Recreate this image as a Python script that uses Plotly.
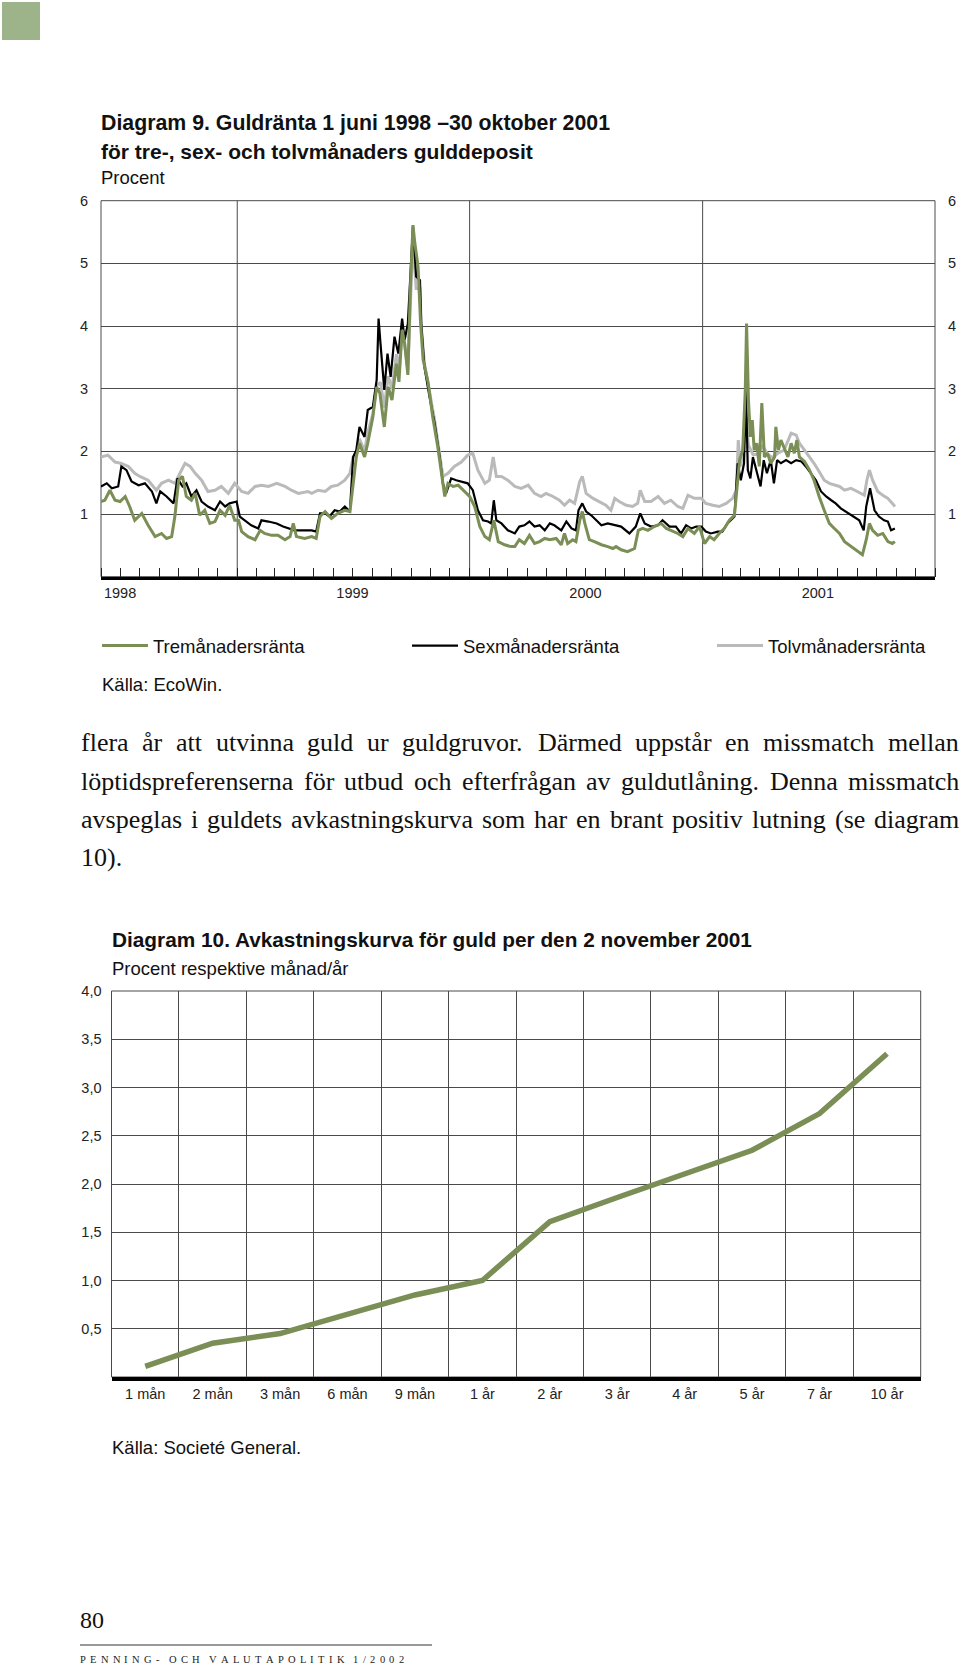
import plotly.graph_objects as go
import pandas as pd

W, H = 960, 1665

# ---------------- Diagram 9 data (days after 1998-06-01, percent) ----------------
start_date = "1998-06-01"

days_3m = [0, 6, 14, 22, 30, 38, 45, 53, 64, 74, 85, 95, 103, 111, 116, 122, 128, 134, 142, 148,
           155, 163, 171, 179, 187, 195, 202, 210, 216, 221, 231, 242, 250, 257, 268, 278, 289, 297, 302, 307,
           320,
           331, 338, 344, 352, 362, 372, 383, 391, 396, 401, 406, 414, 419, 427, 433, 438, 445, 451, 457, 464,
           468, 473, 477, 482, 486, 490, 493, 498, 502, 506, 514, 521, 529, 535, 540, 545, 553, 561, 569, 579,
           587, 595, 603, 610, 617, 624, 634, 644,
           650, 657, 665, 673, 681, 689, 697, 705, 715, 723, 728, 733, 741, 746, 752, 756, 760, 767, 775, 786,
           796, 804, 809, 817, 827, 838, 844, 851, 859, 869, 880, 888, 895, 906, 914, 922, 932, 940, 948, 956,
           963, 971, 979, 987,
           995, 999, 1003, 1008, 1012, 1014, 1017, 1020, 1023, 1026, 1030, 1034, 1038, 1042, 1047, 1052, 1058,
           1060, 1064, 1068, 1073, 1079, 1084, 1089, 1093, 1097, 1105, 1113, 1120, 1128, 1136, 1144, 1152, 1160,
           1168, 1178, 1188, 1196, 1202, 1207, 1212, 1220, 1228, 1236, 1243, 1247]
rate_3m = [1.20, 1.22, 1.38, 1.22, 1.20, 1.28, 1.12, 0.90, 1.01, 0.82, 0.64, 0.69, 0.61, 0.64, 0.96, 1.54, 1.60, 1.28, 1.22, 1.33,
           0.98, 1.06, 0.85, 0.88, 1.06, 0.98, 1.14, 0.90, 0.90, 0.72, 0.64, 0.59, 0.74, 0.69, 0.66, 0.66, 0.59, 0.64, 0.85, 0.64,
           0.61,
           0.64, 0.61, 0.96, 1.04, 0.93, 1.01, 1.06, 1.04, 1.44, 1.91, 2.13, 1.91, 2.13, 2.55, 3.03, 2.93, 2.39, 3.03, 2.82, 3.40,
           3.11, 3.94, 3.72, 3.22, 4.63, 5.61, 5.32, 4.95, 4.04, 3.46, 3.09, 2.55, 2.07, 1.65, 1.28, 1.49, 1.44, 1.46, 1.38, 1.28,
           1.12, 0.80, 0.64, 0.59, 0.90, 0.56, 0.51, 0.48,
           0.48, 0.59, 0.53, 0.66, 0.53, 0.56, 0.61, 0.59, 0.61, 0.51, 0.69, 0.53, 0.59, 0.56, 0.90, 1.04, 0.85, 0.59, 0.56, 0.51,
           0.48, 0.45, 0.48, 0.43, 0.40, 0.45, 0.74, 0.77, 0.74, 0.80, 0.85, 0.77, 0.74, 0.69, 0.64, 0.77, 0.69, 0.80, 0.53, 0.64,
           0.59, 0.69, 0.77, 0.90,
           0.98, 1.38, 1.86, 2.02, 2.98, 4.04, 2.82, 2.23, 2.50, 2.02, 2.13, 1.76, 2.77, 1.91, 1.97, 1.81, 1.91,
           2.39, 2.02, 2.18, 2.07, 1.91, 2.13, 1.97, 2.18, 1.91, 1.84, 1.70, 1.54, 1.28, 1.06, 0.85, 0.77, 0.69,
           0.56, 0.48, 0.40, 0.35, 0.59, 0.85, 0.74, 0.66, 0.69, 0.56, 0.53, 0.56]

days_6m = [0, 9, 17, 27, 32, 40, 48, 59, 69, 80, 87, 93, 103, 114, 120, 128, 134, 142, 150, 158,
           168, 179, 187, 195, 202, 213, 218, 226, 236, 247, 252, 263, 276, 286, 294, 304, 315,
           331, 338, 344, 352, 359, 367, 375, 383, 391, 396, 401, 406, 414, 419, 427, 433, 436, 439, 445, 450,
           455, 461, 467, 473, 477, 482, 488, 490, 495, 501, 503, 508, 516, 524, 532, 537, 542, 550, 558, 566,
           576, 584, 592, 600, 608, 613, 617, 621, 629, 639, 650,
           657, 665, 673, 681, 689, 697, 705, 712, 723, 731, 739, 746, 750, 756, 762, 770, 778, 786, 796, 807,
           817, 830, 840, 847, 854, 864, 875, 882, 893, 903, 911, 919, 927, 935, 943, 950, 958, 969, 976, 984,
           995, 1000, 1005, 1010, 1013, 1016, 1020, 1024, 1029, 1036, 1041, 1046, 1052, 1057, 1062, 1068, 1076,
           1084, 1092, 1100, 1107, 1115, 1123, 1131, 1139, 1147, 1154, 1162, 1170, 1181, 1191, 1198, 1202, 1208,
           1215, 1222, 1230, 1236, 1241, 1247]
rate_6m = [1.44, 1.49, 1.41, 1.44, 1.76, 1.70, 1.52, 1.46, 1.49, 1.36, 1.17, 1.36, 1.28, 1.17, 1.57, 1.44, 1.49, 1.28, 1.38, 1.20,
           1.12, 1.06, 1.20, 1.12, 1.17, 1.20, 0.96, 0.90, 0.82, 0.77, 0.90, 0.88, 0.85, 0.80, 0.77, 0.74, 0.74,
           0.74, 0.72, 1.01, 1.01, 0.96, 1.06, 1.04, 1.12, 1.04, 1.91, 2.02, 2.39, 2.23, 2.66, 2.71, 3.14, 4.12, 3.72, 2.98, 3.56,
           3.19, 3.83, 3.56, 4.12, 3.78, 4.04, 5.11, 5.59, 4.79, 4.73, 4.04, 3.35, 2.87, 2.45, 1.91, 1.49, 1.33, 1.57, 1.54, 1.52,
           1.49, 1.38, 1.06, 0.90, 0.88, 0.85, 1.22, 0.90, 0.85, 0.74, 0.69,
           0.80, 0.82, 0.88, 0.80, 0.82, 0.74, 0.85, 0.82, 0.74, 0.88, 0.77, 0.74, 1.06, 1.17, 1.04, 0.98, 0.90, 0.82, 0.85, 0.82,
           0.80, 0.69, 0.80, 1.01, 0.85, 0.80, 0.82, 0.90, 0.80, 0.80, 0.69, 0.82, 0.77, 0.80, 0.80, 0.72, 0.69, 0.72, 0.72, 0.85,
           0.96, 1.81, 1.54, 1.81, 2.98, 1.70, 1.57, 1.91, 1.70, 1.44, 1.86, 1.65, 1.86, 1.49, 1.86, 1.81, 1.86,
           1.81, 1.86, 1.84, 1.76, 1.65, 1.54, 1.36, 1.28, 1.22, 1.17, 1.09, 1.04, 0.96, 0.90, 0.74, 1.12, 1.41,
           1.06, 0.96, 0.90, 0.88, 0.74, 0.77]

days_12m = [0, 11, 22, 31, 43, 53, 61, 74, 87, 95, 106, 116, 124, 132, 140, 148, 158, 168, 179, 189,
            200, 210, 221, 231, 242, 252, 263, 276, 289, 299, 310, 325,
            331, 341, 352, 362, 372, 383, 391, 396, 401, 406, 414, 419, 427, 433, 439, 445, 451, 457, 464, 468,
            473, 477, 482, 486, 490, 495, 501, 503, 508, 516, 524, 532, 537, 545, 555, 566, 576, 584, 592, 603,
            610, 616, 621, 629, 639, 650,
            660, 671, 681, 691, 699, 710, 720, 728, 736, 744, 752, 756, 762, 773, 783, 793, 801, 807, 814, 825,
            835, 843, 847, 854, 864, 875, 885, 895, 906, 914, 922, 932, 943, 950, 961, 971, 982,
            992, 998, 1001, 1004, 1008, 1013, 1017, 1024, 1032, 1039, 1047, 1055, 1063, 1073, 1084, 1092, 1097,
            1105, 1113, 1120, 1128, 1136, 1144, 1152, 1160, 1168, 1178, 1188, 1199, 1203, 1207, 1212, 1220, 1228,
            1236, 1243, 1247]
rate_12m = [1.91, 1.94, 1.83, 1.81, 1.76, 1.65, 1.60, 1.54, 1.38, 1.49, 1.54, 1.49, 1.65, 1.81, 1.76, 1.65, 1.54, 1.36, 1.38, 1.44,
            1.33, 1.49, 1.36, 1.33, 1.44, 1.46, 1.44, 1.49, 1.44, 1.38, 1.33, 1.36,
            1.33, 1.38, 1.36, 1.44, 1.46, 1.54, 1.65, 1.91, 1.95, 2.20, 2.00, 2.30, 2.60, 3.05, 3.10, 2.70, 3.20, 3.00, 3.55, 3.30,
            3.90, 3.70, 3.30, 4.40, 5.40, 4.60, 4.60, 4.00, 3.40, 2.95, 2.50, 1.95, 1.60, 1.65, 1.76, 1.83, 1.94, 1.97, 1.70, 1.49,
            1.54, 1.91, 1.60, 1.60, 1.54, 1.44,
            1.41, 1.46, 1.33, 1.28, 1.33, 1.28, 1.22, 1.14, 1.22, 1.17, 1.52, 1.60, 1.33, 1.25, 1.20, 1.14, 1.06, 1.25, 1.20, 1.14,
            1.12, 1.17, 1.38, 1.20, 1.20, 1.28, 1.17, 1.22, 1.12, 1.09, 1.30, 1.25, 1.25, 1.17, 1.14, 1.12, 1.17,
            1.25, 1.38, 2.18, 1.76, 1.95, 2.60, 2.10, 1.95, 1.95, 2.10, 1.95, 1.90, 1.97, 2.02, 2.29, 2.26, 2.13,
            2.02, 1.91, 1.81, 1.68, 1.54, 1.49, 1.46, 1.44, 1.38, 1.41, 1.36, 1.30, 1.54, 1.70, 1.54, 1.36, 1.30,
            1.25, 1.17, 1.12]

series_names = ["Tremånadersränta", "Sexmånadersränta", "Tolvmånadersränta"]
year_labels = ["1998", "1999", "2000", "2001"]
year_label_dates = ["1998-07-01", "1999-07-01", "2000-07-01", "2001-07-01"]
year_grid_dates = ["1999-01-01", "2000-01-01", "2001-01-01"]
end_date = "2002-01-01"
y1_ticks = [1, 2, 3, 4, 5, 6]

# ---------------- Diagram 10 data ----------------
maturities = ["1 mån", "2 mån", "3 mån", "6 mån", "9 mån", "1 år", "2 år", "3 år", "4 år", "5 år", "7 år", "10 år"]
gold_yield = [0.11, 0.35, 0.45, 0.65, 0.85, 1.00, 1.61, 1.86, 2.10, 2.35, 2.73, 3.35]
y2_ticks = [0.5, 1.0, 1.5, 2.0, 2.5, 3.0, 3.5, 4.0]

body_lines = [
    "flera år att utvinna guld ur guldgruvor. Därmed uppstår en missmatch mellan",
    "löptidspreferenserna för utbud och efterfrågan av guldutlåning. Denna missmatch",
    "avspeglas i guldets avkastningskurva som har en brant positiv lutning (se diagram",
    "10).",
]
footer_title = "PENNING- OCH VALUTAPOLITIK 1/2002"

GREEN = "#7a8e55"
GREY = "#bababa"
GRID = "#4a4a4a"
SANS = "Liberation Sans, Arial, sans-serif"
SERIF = "Liberation Serif, Times New Roman, serif"


def px(x):
    return x / W


def py(y):
    return 1 - y / H


def to_dates(days):
    return pd.Timestamp(start_date) + pd.to_timedelta(days, unit="D")


fig = go.Figure()

fig.add_trace(go.Scatter(x=to_dates(days_12m), y=rate_12m, mode="lines", name=series_names[2],
                         line=dict(color=GREY, width=3), legend="legend3", xaxis="x", yaxis="y"))
fig.add_trace(go.Scatter(x=to_dates(days_6m), y=rate_6m, mode="lines", name=series_names[1],
                         line=dict(color="black", width=2.2), legend="legend2", xaxis="x", yaxis="y"))
fig.add_trace(go.Scatter(x=to_dates(days_3m), y=rate_3m, mode="lines", name=series_names[0],
                         line=dict(color=GREEN, width=3), legend="legend", xaxis="x", yaxis="y3"))

fig.add_trace(go.Scatter(x=maturities, y=gold_yield, mode="lines", showlegend=False,
                         line=dict(color=GREEN, width=5.5), xaxis="x2", yaxis="y2"))

tickfont = dict(family=SANS, size=14.5, color="#222")

c1_top, c1_bot, c1_l, c1_r = 200.7, 576.7, 101, 935
c2_top, c2_bot, c2_l, c2_r = 991, 1377, 111.5, 920.7


def legend_at(xpix):
    return dict(orientation="h", x=px(xpix), xanchor="left", y=py(646), yanchor="middle",
                font=dict(family=SANS, size=18.5, color="#111"), bgcolor="rgba(0,0,0,0)",
                itemwidth=46)


fig.update_layout(
    width=W, height=H, margin=dict(l=0, r=0, t=0, b=0, autoexpand=False),
    paper_bgcolor="white", plot_bgcolor="white",
    separators=", ",
    showlegend=True,
    legend=legend_at(97), legend2=legend_at(407), legend3=legend_at(712),
    xaxis=dict(domain=[px(c1_l), px(c1_r)], anchor="y", type="date", automargin=False,
               range=[start_date, end_date], tickvals=year_label_dates, ticktext=year_labels,
               ticks="", showgrid=False, zeroline=False,
               showline=True, linewidth=3, linecolor="black",
               ticklabelstandoff=1, tickfont=tickfont,
               minor=dict(dtick="M1", tick0=start_date, ticks="inside", ticklen=9,
                          tickcolor="#222", tickwidth=1, showgrid=False)),
    yaxis=dict(domain=[py(c1_bot), py(c1_top)], anchor="x", range=[0, 6], tickvals=y1_ticks,
               automargin=False,
               showgrid=True, gridcolor=GRID, gridwidth=1, zeroline=False, showline=False,
               ticks="", ticklabelstandoff=12, tickfont=tickfont),
    yaxis3=dict(overlaying="y", anchor="x", side="right", range=[0, 6], tickvals=y1_ticks,
                automargin=False,
                showgrid=False, zeroline=False, showline=False, ticks="",
                ticklabelstandoff=12, tickfont=tickfont),
    xaxis2=dict(domain=[px(c2_l), px(c2_r)], anchor="y2", type="category", automargin=False,
                range=[-0.5, len(maturities) - 0.5],
                tickson="boundaries", ticks="", showgrid=True, gridcolor=GRID, gridwidth=1,
                showline=True, linewidth=3.5, linecolor="black",
                ticklabelstandoff=1, tickfont=tickfont),
    yaxis2=dict(domain=[py(c2_bot), py(c2_top)], anchor="x2", range=[0, 4], tickvals=y2_ticks,
                automargin=False,
                tickformat=".1f", showgrid=True, gridcolor=GRID, gridwidth=1, zeroline=False,
                showline=False, ticks="", ticklabelstandoff=9, tickfont=tickfont),
    yaxis4=dict(overlaying="y2", anchor="x2", side="right", range=[0, 4], tickvals=y2_ticks,
                automargin=False,
                tickformat=".1f", showgrid=False, zeroline=False, showline=False, ticks="",
                ticklabelstandoff=9, tickfont=tickfont),
)

shapes = []
# page corner square
shapes.append(dict(type="rect", xref="paper", yref="paper", x0=px(2), x1=px(40), y0=py(2), y1=py(40),
                   fillcolor="#9db48b", line=dict(width=0)))
# frames
shapes.append(dict(type="rect", xref="x domain", yref="y domain", x0=0, x1=1, y0=0, y1=1,
                   line=dict(color=GRID, width=1), layer="below"))
shapes.append(dict(type="rect", xref="x2 domain", yref="y2 domain", x0=0, x1=1, y0=0, y1=1,
                   line=dict(color=GRID, width=1), layer="below"))
# year boundaries in diagram 9
for d in year_grid_dates:
    shapes.append(dict(type="line", xref="x", yref="y domain", x0=d, x1=d, y0=0, y1=1,
                       line=dict(color=GRID, width=1), layer="below"))
# footer rule
shapes.append(dict(type="line", xref="paper", yref="paper", x0=px(80), x1=px(432), y0=py(1645), y1=py(1645),
                   line=dict(color="#333", width=1)))
fig.update_layout(shapes=shapes)

ann = []


def text(x, y, s, size, family=SANS, bold=False, color="#111", xanchor="left"):
    ann.append(dict(xref="paper", yref="paper", x=px(x), y=py(y), text=("<b>%s</b>" % s) if bold else s,
                    showarrow=False, xanchor=xanchor, yanchor="middle", borderpad=0,
                    font=dict(family=family, size=size, color=color)))


text(100, 123, "Diagram 9. Guldränta 1 juni 1998 –30 oktober 2001", 21.3, bold=True)
text(100, 151, "för tre-, sex- och tolvmånaders gulddeposit", 21, bold=True)
text(100, 178, "Procent", 18.5)
text(101, 684, "Källa: EcoWin.", 18.5)

text(111, 939, "Diagram 10. Avkastningskurva för guld per den 2 november 2001", 20.8, bold=True)
text(111, 968, "Procent respektive månad/år", 18.5)
text(111, 1447, "Källa: Societé General.", 18.5)

# Times-compatible advance widths (Liberation Serif), used to spread words/letters
SERIF_W = {'a': 444, 'b': 500, 'c': 444, 'd': 500, 'e': 444, 'f': 333, 'g': 500, 'h': 500, 'i': 278,
           'j': 278, 'k': 500, 'l': 278, 'm': 778, 'n': 500, 'o': 500, 'p': 500, 'q': 500, 'r': 333,
           's': 389, 't': 278, 'u': 500, 'v': 500, 'w': 722, 'x': 500, 'y': 500, 'z': 444, 'å': 444,
           'ä': 444, 'ö': 500, 'D': 722, '.': 250, ',': 250, '(': 333, ')': 333, ' ': 250,
           'A': 722, 'C': 667, 'E': 611, 'G': 722, 'H': 722, 'I': 333, 'K': 722, 'L': 611, 'N': 722,
           'O': 722, 'P': 556, 'T': 611, 'U': 722, 'V': 722, '-': 333, '/': 278}


def adv(s, size):
    return sum(SERIF_W.get(c, 500) for c in s) * size / 1000.0


def spread(tokens, left, right, y, size, weights=None, color="#111"):
    total = sum(adv(t, size) for t in tokens)
    w = weights or [1] * (len(tokens) - 1)
    unit = (right - left - total) / float(sum(w))
    xx = left
    for i, t in enumerate(tokens):
        if t.strip():
            text(xx, y, t, size, family=SERIF, color=color)
        xx += adv(t, size) + (unit * w[i] if i < len(w) else 0)


BODY_SIZE = 26
body_left, body_right = 80, 958
body_y = [743, 781, 819, 857]
for i, line in enumerate(body_lines):
    if i < len(body_lines) - 1:
        spread(line.split(" "), body_left, body_right, body_y[i], BODY_SIZE)
    else:
        text(body_left, body_y[i], line, BODY_SIZE, family=SERIF, color="#111")

# footer
text(79, 1620, "80", 24, family=SERIF, color="#111")
chars = list(footer_title)
gaps = [1.1 if (chars[i] == " " or chars[i + 1] == " ") else 1 for i in range(len(chars) - 1)]
chars_no_space = [c if c != " " else "" for c in chars]
spread(chars_no_space, 79, 403, 1659, 10.5, weights=gaps, color="#222")

fig.update_layout(annotations=ann)

fig.write_html("out.html")
